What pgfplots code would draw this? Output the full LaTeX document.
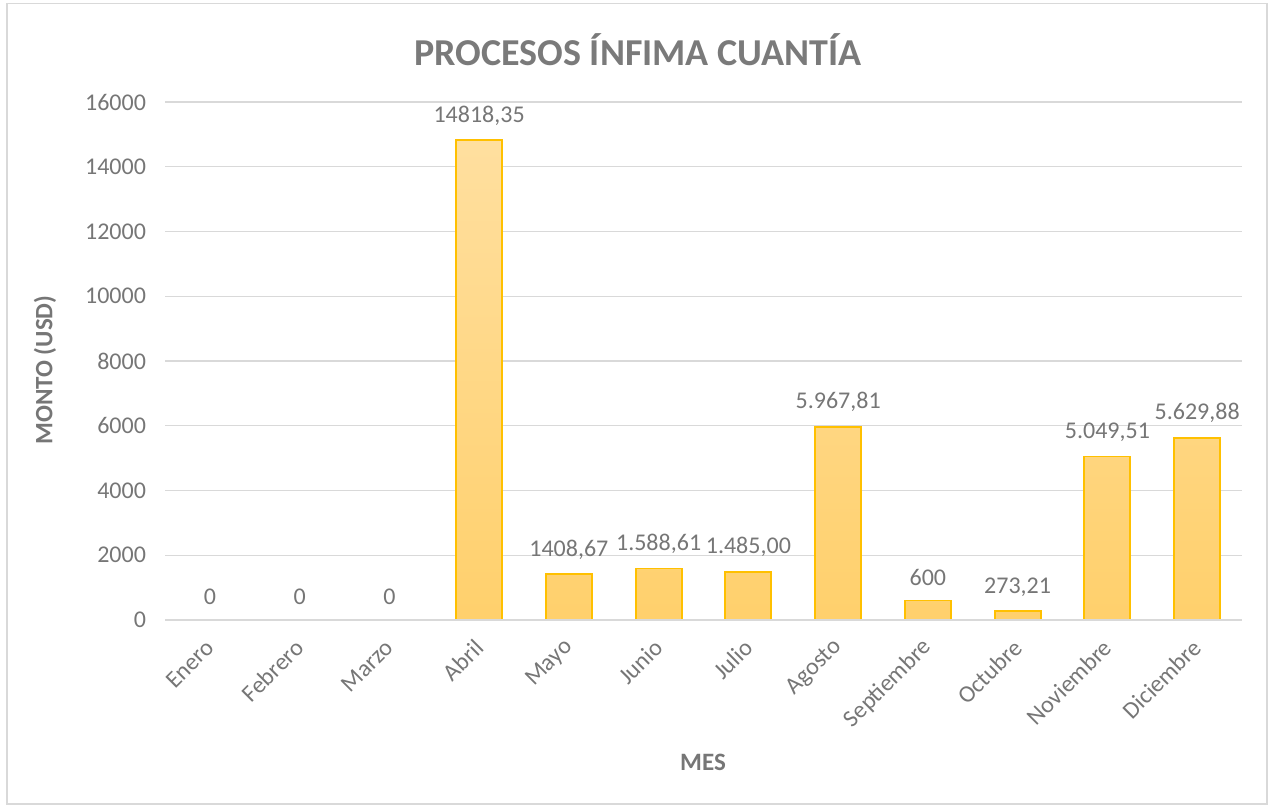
\documentclass[border=0pt]{standalone}
\usepackage{fontspec}
\setmainfont{Carlito}
\usepackage{pgfplots}
\usepackage{pgfplotstable}
\pgfplotsset{compat=1.18}
\definecolor{txt}{HTML}{767676}
\definecolor{ttl}{HTML}{7A7A7A}
\definecolor{gridc}{HTML}{D9D9D9}
\definecolor{edge}{HTML}{FFC000}
\definecolor{ftop}{HTML}{FFDF9F}
\definecolor{fbot}{HTML}{FFD06C}
\pgfplotstableread{
x y lab
0 0 0
1 0 0
2 0 0
3 14818.35 14818,35
4 1408.67 1408,67
5 1588.61 1.588,61
6 1485.00 1.485,00
7 5967.81 5.967,81
8 600 600
9 273.21 273,21
10 5049.51 5.049,51
11 5629.88 5.629,88
}\datatab
\pgfplotstableread{
x y
3 14818.35
4 1408.67
5 1588.61
6 1485.00
7 5967.81
8 600
9 273.21
10 5049.51
11 5629.88
}\bartab
\begin{document}
\begin{tikzpicture}[font=\fontsize{12bp}{14bp}\selectfont]
\useasboundingbox (0,0) rectangle (637bp,403.5bp);
\draw[gridc, line width=0.8bp] (3.6bp,1.6bp) rectangle (633.6bp,401.8bp);
\begin{axis}[
  at={(82.5bp,93.5bp)}, anchor=south west,
  scale only axis, width=538.5bp, height=259bp,
  xmin=-0.5, xmax=11.5, ymin=0, ymax=16000,
  xtick={0,...,11},
  xticklabels={Enero,Febrero,Marzo,Abril,Mayo,Junio,Julio,Agosto,Septiembre,Octubre,Noviembre,Diciembre},
  ytick={0,2000,...,16000},
  /pgf/number format/assume math mode=true,
  /pgf/number format/1000 sep={},
  scaled y ticks=false,
  axis line style={draw=none},
  major tick length=0pt,
  ymajorgrids, grid style={gridc, line width=0.6bp},
  tick label style={txt, font=\fontsize{12bp}{14bp}\selectfont},
  yticklabel style={xshift=-6bp},
  xticklabel style={yshift=-9.5bp, xshift=2.5bp, rotate=45, anchor=east},
  clip=false,
]
\addplot[ybar, bar width=23bp, draw=edge, line width=0.9bp, top color=ftop, bottom color=fbot] table[x=x,y=y] {\bartab};
\addplot[draw=none, mark=none, nodes near coords, point meta=explicit symbolic,
  every node near coord/.append style={txt, anchor=south, yshift=4bp, font=\fontsize{12bp}{14bp}\selectfont}]
  table[x=x,y=y,meta=lab] {\datatab};
\draw[gridc, line width=0.8bp] (axis cs:-0.5,0) -- (axis cs:11.5,0);
\end{axis}
\node[ttl, font=\bfseries\fontsize{19bp}{22bp}\selectfont] at (319bp,378.5bp) {PROCESOS ÍNFIMA CUANTÍA};
\node[txt, font=\bfseries\fontsize{12.5bp}{15bp}\selectfont] at (351.5bp,22.5bp) {MES};
\node[txt, font=\bfseries\fontsize{12.5bp}{15bp}\selectfont, rotate=90] at (22.5bp,218.5bp) {MONTO (USD)};
\end{tikzpicture}
\end{document}
